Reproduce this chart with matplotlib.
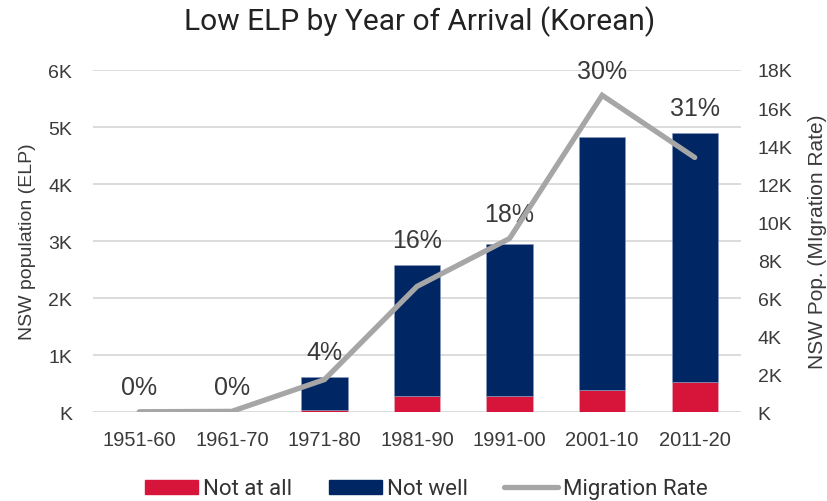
import matplotlib
matplotlib.use("Agg")
import matplotlib.pyplot as plt
import numpy as np
from matplotlib.ticker import FuncFormatter, MultipleLocator
from matplotlib.patches import Patch
from matplotlib.lines import Line2D

# Data
periods = ["1951-60", "1961-70", "1971-80", "1981-90", "1991-00", "2001-10", "2011-20"]
not_at_all = [0, 2, 45, 290, 290, 390, 530]
not_well = [0, 8, 580, 2300, 2655, 4430, 4370]
migration = [30, 50, 1720, 6620, 9140, 16670, 13400]
rate_labels = ["0%", "0%", "4%", "16%", "18%", "30%", "31%"]

RED = "#D7153A"
NAVY = "#002664"
GREY = "#A6A6A6"
GRID = "#D9D9D9"
TXT = "#3A3A3A"

fig = plt.figure(figsize=(8.27, 5.02), dpi=100)
ax = fig.add_axes([93 / 827, 1 - 413.3 / 502, (741 - 93) / 827, (413.3 - 71) / 502])
ax2 = ax.twinx()

x = np.arange(len(periods))
w = 0.5
ax.bar(x, not_at_all, w, color=RED, zorder=3, edgecolor="#E8B0BC", linewidth=0.4)
ax.bar(x, not_well, w, bottom=not_at_all, color=NAVY, zorder=3,
       edgecolor="#8A9CC0", linewidth=0.4)

ax.set_ylim(0, 6000)
ax.set_xlim(-0.5, len(periods) - 0.5)
ax.yaxis.set_major_locator(MultipleLocator(1000))
ax2.set_ylim(0, 18000)
ax2.yaxis.set_major_locator(MultipleLocator(2000))

kfmt = FuncFormatter(lambda v, p: f"{int(round(v / 1000))}K" if v else "K")
ax.yaxis.set_major_formatter(kfmt)
ax2.yaxis.set_major_formatter(kfmt)

ax.grid(axis="y", color=GRID, linewidth=1.3, zorder=0)
ax.set_axisbelow(True)

ax2.plot(x, migration, color=GREY, linewidth=3.8, solid_capstyle="round",
         solid_joinstyle="miter", zorder=4)

# Rate labels sit above whichever mark is taller
totals = [a + b for a, b in zip(not_at_all, not_well)]
for i, lab in enumerate(rate_labels):
    top = max(totals[i], migration[i] / 3.0)
    ax.annotate(lab, (x[i], top), xytext=(0, 17.5), textcoords="offset points",
                ha="center", va="center", fontsize=18, color=TXT,
                family="Liberation Sans", zorder=5)

for a in (ax, ax2):
    for s in a.spines.values():
        s.set_visible(False)
    a.tick_params(length=0, labelsize=14, colors=TXT)
    for t in a.get_yticklabels() + a.get_xticklabels():
        t.set_family("Liberation Sans")

ax.set_xticks(x)
ax.set_xticklabels(periods, fontsize=14.5, family="Liberation Sans")
ax.tick_params(axis="x", pad=13)
ax.tick_params(axis="y", pad=15)
ax2.tick_params(axis="y", pad=12)

ax.set_ylabel("NSW population (ELP)", fontsize=14, color=TXT,
              family="Liberation Sans", labelpad=9)
ax2.set_ylabel("NSW Pop. (MIgration Rate)", fontsize=15, color=TXT,
               family="Liberation Sans", labelpad=11)

fig.suptitle("Low ELP by Year of Arrival (Korean)", x=420 / 827, y=1 - 22 / 502,
             va="center", fontsize=21.5, color="#222222", family="Roboto")

handles = [Patch(color=RED, label="Not at all"),
           Patch(color=NAVY, label="Not well"),
           Line2D([0], [0], color=GREY, linewidth=3.8, solid_capstyle="round",
                  label="Migration Rate")]
leg = fig.legend(handles=handles, loc="center", bbox_to_anchor=(426 / 827, 1 - 490 / 502),
                 ncol=3, frameon=False, handlelength=2.4, handleheight=0.6,
                 handletextpad=0.22, columnspacing=1.65,
                 prop={"family": "Roboto", "size": 16})
for t in leg.get_texts():
    t.set_color("#333333")

fig.savefig("out.png", dpi=100)
